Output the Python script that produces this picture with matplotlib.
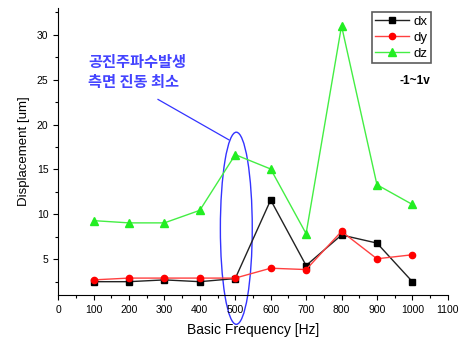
import matplotlib
matplotlib.use("Agg")
import matplotlib.pyplot as plt
from matplotlib.patches import Ellipse
from matplotlib.ticker import MultipleLocator

# data
freq = [100, 200, 300, 400, 500, 600, 700, 800, 900, 1000]
dx = [2.5, 2.5, 2.7, 2.5, 2.85, 11.6, 4.3, 7.7, 6.8, 2.5]
dy = [2.7, 2.9, 2.9, 2.9, 2.9, 4.0, 3.85, 8.1, 5.05, 5.5]
dz = [9.3, 9.05, 9.05, 10.45, 16.65, 15.05, 7.85, 31.0, 13.3, 11.1]

note_lines = ["공진주파수발생", "측면 진동 최소"]
range_label = "-1~1v"

plt.rcParams["font.family"] = ["Liberation Sans", "DejaVu Sans"]

fig = plt.figure(figsize=(4.65, 3.42), dpi=100)
ax = fig.add_axes([0.125, 0.137, 0.838, 0.84])

ax.plot(freq, dx, color="#222222", lw=1, marker="s", ms=4.5, mfc="black", mec="black", label="dx")
ax.plot(freq, dy, color="#ff4040", lw=1, marker="o", ms=4.5, mfc="red", mec="red", label="dy")
ax.plot(freq, dz, color="#44ee44", lw=1, marker="^", ms=5.5, mfc="#22ee22", mec="#22ee22", label="dz")

ax.set_xlim(0, 1100)
ax.set_ylim(1, 33)
ax.xaxis.set_major_locator(MultipleLocator(100))
ax.xaxis.set_minor_locator(MultipleLocator(50))
ax.yaxis.set_major_locator(MultipleLocator(5))
ax.yaxis.set_minor_locator(MultipleLocator(2.5))
ax.set_yticks([5, 10, 15, 20, 25, 30])
ax.tick_params(which="both", direction="out", labelsize=7.5, width=0.8)
ax.tick_params(which="major", length=3.5)
ax.tick_params(which="minor", length=2)
ax.spines["top"].set_visible(False)
ax.spines["right"].set_visible(False)

ax.set_xlabel("Basic Frequency [Hz]", fontsize=10, labelpad=6)
ax.set_ylabel("Displacement [um]", fontsize=9.5, labelpad=5)

leg = ax.legend(loc="upper right", bbox_to_anchor=(0.956, 0.985), fontsize=9.5,
                frameon=True, fancybox=False, edgecolor="#333333",
                handlelength=2.6, handletextpad=0.3, borderpad=0.25, labelspacing=0.3,
                borderaxespad=0)
leg.get_frame().set_linewidth(1.2)

ax.text(0.955, 0.745, range_label, transform=ax.transAxes, ha="right", va="center",
        fontsize=8.5, fontweight="bold")

# resonance note
ax.text(85, 27.0, note_lines[0], color="#4444ff", fontsize=11, fontweight="bold",
        family=["Noto Sans CJK KR", "DejaVu Sans"], va="center")
ax.text(85, 24.7, note_lines[1], color="#4444ff", fontsize=11, fontweight="bold",
        family=["Noto Sans CJK KR", "DejaVu Sans"], va="center")
ax.plot([282, 482], [22.8, 18.3], color="#3333ff", lw=0.9)
ax.add_patch(Ellipse((503, 8.45), 90, 21.4, fill=False, edgecolor="#3333ff", lw=1, clip_on=False))

fig.savefig("out.png", dpi=100)
